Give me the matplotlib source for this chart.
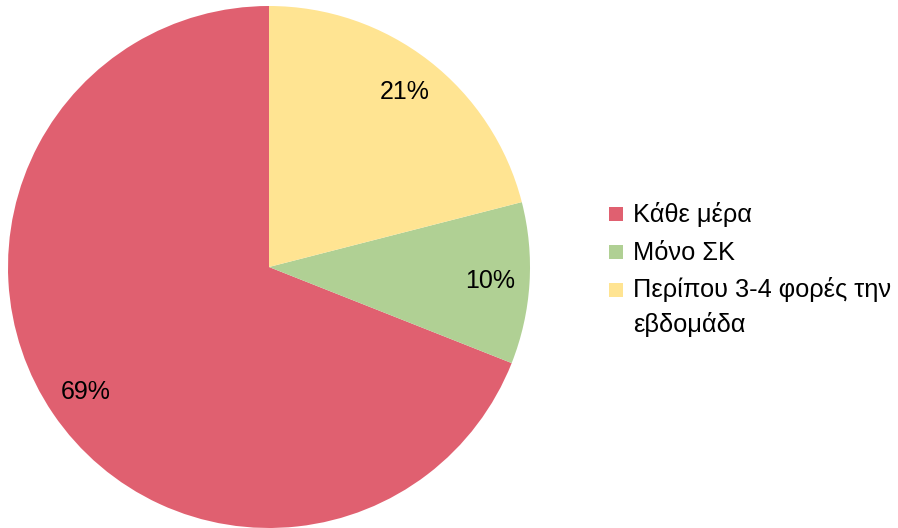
import matplotlib
matplotlib.use("Agg")
import matplotlib.pyplot as plt
from matplotlib.patches import Rectangle

plt.rcParams['font.family'] = ['Liberation Sans', 'DejaVu Sans']

categories = ["Κάθε μέρα", "Μόνο ΣΚ", "Περίπου 3-4 φορές την\nεβδομάδα"]
values = [69, 10, 21]
colors = ["#e06070", "#b0d094", "#ffe492"]

W, H = 898, 528
fig = plt.figure(figsize=(W/100, H/100), dpi=100)
ax = fig.add_axes([8/W, 0.0, 522/W, 522/H])
wedges, texts, autotexts = ax.pie(values, colors=colors, startangle=90, counterclock=True,
                                  autopct=lambda p: f"{p:.0f}%", pctdistance=0.85,
                                  wedgeprops=dict(linewidth=0), frame=False)
ax.set_xlim(-1, 1)
ax.set_ylim(-1, 1)
ax.set_aspect('equal')
ax.axis('off')
for t in autotexts:
    t.set_fontsize(18)
    t.set_color("black")

# manual legend (marker aligned with first text line, as in the reference)
fs = 18.3
y0, dy, msize, line_gap = 214.5, 37.5, 14, 35
for i, (lab, col) in enumerate(zip(categories, colors)):
    yc = y0 + dy * i
    fig.patches.append(Rectangle((609/W, 1 - (yc + msize/2)/H), msize/W, msize/H,
                                 transform=fig.transFigure, facecolor=col,
                                 edgecolor='none', figure=fig))
    for k, line in enumerate(lab.split("\n")):
        fig.text(633/W, 1 - (yc + 7.5 + k * line_gap)/H, line, fontsize=fs,
                 va='baseline', ha='left', color='black')
fig.savefig("out.png", dpi=100)
